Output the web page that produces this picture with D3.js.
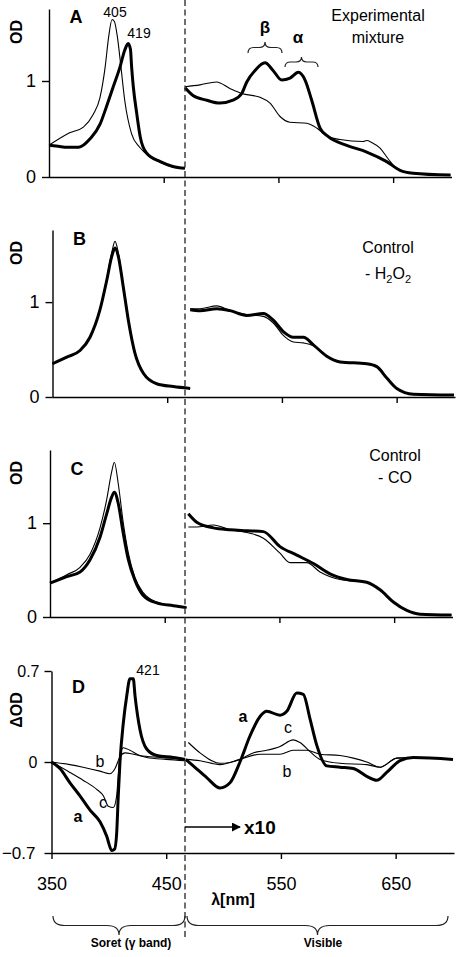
<!DOCTYPE html>
<html><head><meta charset="utf-8">
<script src="https://cdn.jsdelivr.net/npm/d3@7"></script>
<style>
body{margin:0;background:#fff;}
svg text{font-family:Arial,"Liberation Sans",sans-serif;fill:#000;}
</style></head>
<body><svg id="c" width="461" height="957"></svg>
<script>
// ---------- DATA (wavelength nm, OD / ΔOD) ----------
const xTicksTop = [450, 550, 650];
const xTicksBottom = [350, 450, 550, 650];
const odTicks = [0, 1];
const dodTicks = [-0.7, 0, 0.7];

const aSoretThin = [[350,0.33],[368,0.46],[380,0.52],[388.5,0.65],[394.5,0.83],[399,1.15],[402,1.46],[405,1.64],[407,1.62],[409.5,1.47],[412.5,1.17],[416,0.80],[422,0.45],[429,0.31],[438,0.21],[449.5,0.14],[459,0.10],[468.5,0.09]];
const aSoretThick = [[350,0.33],[358,0.32],[366,0.31],[376,0.31],[386,0.40],[394.5,0.55],[400,0.73],[406,0.94],[412,1.15],[416,1.32],[419,1.39],[421,1.33],[422,1.15],[423.5,0.94],[426.5,0.66],[429.5,0.42],[435,0.25],[447,0.16],[458,0.11],[468.5,0.09]];
const aVisThin = [[468.6,0.94],[481.6,0.96],[496,0.99],[508,0.92],[518,0.87],[534,0.83],[542.7,0.77],[551.4,0.63],[560,0.57],[574.7,0.56],[583.4,0.51],[592,0.43],[603.7,0.39],[623.8,0.37],[627,0.38],[631.3,0.36],[638.6,0.30],[645.6,0.19],[653,0.09],[667,0.04],[700,0.02]];
const aVisThick = [[468.6,0.93],[475.5,0.85],[487.5,0.80],[499,0.77],[510.4,0.80],[518,0.87],[522.4,0.99],[529.6,1.11],[538.3,1.19],[545.3,1.11],[552.9,1.01],[560.1,1.03],[567.4,1.09],[573.2,1.01],[579,0.80],[586.3,0.51],[593.5,0.42],[609.5,0.33],[627,0.26],[644.4,0.16],[656,0.07],[667.3,0.04],[700,0.02]];

const bSoretThin = [[350,0.35],[362.4,0.42],[374,0.49],[382.7,0.63],[391.4,0.93],[397.3,1.25],[401.6,1.52],[404.5,1.64],[407.4,1.52],[411.7,1.18],[416.1,0.83],[421.9,0.47],[429.2,0.26],[440.8,0.14],[455.3,0.11],[470,0.09]];
const bSoretThick = [[350,0.35],[362.4,0.42],[374,0.49],[382.7,0.63],[391.4,0.92],[397.3,1.23],[401.6,1.48],[404.5,1.57],[407.4,1.48],[411.7,1.16],[416.1,0.81],[421.9,0.46],[429.2,0.25],[440.8,0.14],[455.3,0.11],[470,0.09]];
const bVisThin = [[470,0.93],[478.6,0.93],[493.2,0.96],[504.8,0.91],[519.3,0.87],[533.8,0.85],[542.5,0.78],[551.2,0.65],[559.9,0.58],[568.7,0.57],[577.4,0.54],[589.1,0.43],[600.7,0.37],[623.9,0.35],[632.7,0.32],[641.4,0.20],[650.1,0.09],[664.6,0.03],[700,0.02]];
const bVisThick = [[470,0.92],[478.6,0.91],[493.2,0.93],[504.8,0.91],[519.3,0.86],[533.8,0.88],[542.5,0.81],[551.2,0.69],[559.9,0.63],[568.7,0.63],[577.4,0.55],[589.1,0.43],[600.7,0.37],[623.9,0.35],[632.7,0.32],[641.4,0.20],[650.1,0.09],[664.6,0.03],[700,0.02]];

const cSoretThin = [[350,0.36],[364.6,0.45],[376.2,0.53],[384.9,0.67],[393.6,0.95],[399.4,1.25],[403.8,1.55],[406.1,1.65],[409.5,1.42],[413.9,1.0],[418.3,0.68],[424.1,0.42],[431.3,0.26],[443,0.16],[457.5,0.12],[469,0.10]];
const cSoretThick = [[350,0.36],[364.6,0.43],[376.2,0.48],[384.9,0.61],[393.6,0.85],[399.4,1.10],[403.8,1.28],[406.1,1.33],[409.5,1.21],[413.9,0.89],[418.3,0.61],[424.1,0.39],[431.3,0.23],[443,0.15],[457.5,0.12],[469,0.10]];
const cVisThin = [[470.6,0.96],[477.9,0.96],[492.4,0.98],[506.9,0.93],[521.5,0.90],[536,0.84],[550.5,0.68],[559.2,0.58],[573.8,0.58],[585.4,0.48],[602.8,0.40],[626.1,0.37],[637.7,0.29],[649.3,0.16],[661,0.07],[672.6,0.03],[700,0.02]];
const cVisThick = [[470.6,1.10],[477.9,1.01],[492.4,0.95],[506.9,0.93],[521.5,0.92],[536,0.91],[550.5,0.75],[565.1,0.66],[579.6,0.57],[594.1,0.46],[608.7,0.40],[626.1,0.37],[637.7,0.29],[649.3,0.16],[661,0.07],[672.6,0.03],[700,0.02]];

const dSoretA = [[350,0],[357.4,-0.05],[366.1,-0.16],[374.8,-0.26],[383.6,-0.37],[392.3,-0.46],[398.1,-0.57],[402.5,-0.68],[405,-0.67],[406.8,-0.55],[408.2,-0.26],[409.7,0],[412.6,0.30],[415.6,0.51],[418.4,0.64],[421.3,0.64],[422.8,0.51],[427.1,0.25],[433,0.10],[441.7,0.05],[456.2,0.035],[466.4,0.02]];
const dSoretB = [[350,0],[366,-0.02],[377.5,-0.04],[392.3,-0.07],[401,-0.09],[405.4,-0.05],[409.7,0.04],[414.1,0.07],[421.3,0.06],[433,0.035],[450,0.02],[466.4,0.01]];
const dSoretC = [[350,0],[366.1,-0.08],[377.5,-0.14],[389.4,-0.21],[395.2,-0.26],[399.5,-0.34],[403.9,-0.35],[406.8,-0.26],[408.2,-0.10],[409.7,0.05],[412.6,0.11],[418.4,0.09],[427.1,0.05],[444.6,0.035],[466.4,0.02]];
// visible part shown x10
const dVisA = [[467,0.02],[473.6,-0.03],[485.3,-0.12],[496.9,-0.20],[505.6,-0.16],[514.3,0],[523,0.20],[531.8,0.35],[537.6,0.39],[549.2,0.36],[555.1,0.39],[563.8,0.53],[569.5,0.52],[575.4,0.33],[581.2,0.13],[589.9,-0.03],[601.5,-0.04],[613.1,-0.05],[624.8,-0.11],[633.5,-0.14],[642.2,-0.08],[653.8,0.01],[665.4,0.035],[700,0.02]];
const dVisB = [[467,0.02],[479.5,0.01],[496.9,-0.02],[514.3,0.02],[531.8,0.06],[549.2,0.06],[560.8,0.09],[572.5,0.09],[584.1,0.06],[601.5,0.05],[613.1,0.03],[624.8,0.0],[636.4,-0.04],[651,0.03],[665.4,0.035],[700,0.02]];
const dVisC = [[469.3,0.15],[479.5,0.07],[496.9,-0.01],[514.3,0.02],[525.7,0.07],[537.6,0.09],[549.2,0.12],[560.8,0.17],[566.6,0.15],[575.4,0.08],[584.1,0.02],[601.5,-0.01],[624.8,-0.02],[636.4,-0.04],[651,0.03],[665.4,0.035],[700,0.02]];

// ---------- DRAWING ----------
const svg = d3.select("#c");
svg.append("rect").attr("width",461).attr("height",957).attr("fill","#fff");

const THICK = 3, THIN = 1.1;
const panels = [
  {x0:49,   yTop:9,   yBot:177, dom:[0,1.75], ticks:odTicks, letter:"A", thin:[aSoretThin,aVisThin], thick:[aSoretThick,aVisThick]},
  {x0:52.5, yTop:230, yBot:397, dom:[0,1.76], ticks:odTicks, letter:"B", thin:[bSoretThin,bVisThin], thick:[bSoretThick,bVisThick]},
  {x0:50,   yTop:450, yBot:617, dom:[0,1.78], ticks:odTicks, letter:"C", thin:[cSoretThin,cVisThin], thick:[cSoretThick,cVisThick]},
  {x0:51.5, yTop:671, yBot:853, dom:[-0.7,0.7], ticks:dodTicks, letter:"D", thin:[dSoretB,dSoretC,dVisB,dVisC], thick:[dSoretA,dVisA]}
];

panels.forEach((p,i)=>{
  const x = d3.scaleLinear().domain([350,700]).range([p.x0, p.x0+401.5]);
  const y = d3.scaleLinear().domain(p.dom).range([p.yBot, p.yTop]);
  p.x = x; p.y = y;
  const isD = i===3;
  // y axis
  const ya = d3.axisLeft(y).tickValues(p.ticks).tickSize(7).tickSizeOuter(0).tickPadding(isD?5:6)
      .tickFormat(d=> d===0 ? "0" : (isD ? d3.format(".1f")(d) : d3.format("d")(d)));
  const gy = svg.append("g").attr("transform",`translate(${p.x0},0)`).call(ya);
  gy.selectAll("text").attr("font-size", isD?16:18).attr("font-family","Arial, 'Liberation Sans', sans-serif");
  gy.selectAll("path,line").attr("stroke","#000").attr("stroke-width",1.4);
  if(isD){
    gy.selectAll(".tick").filter(d=>d===0).select("text").attr("x",-14);
    gy.selectAll(".tick").filter(d=>d===-0.7).select("text").attr("x",-16).attr("font-size",17);
  }
  // x axis
  const xa = d3.axisBottom(x).tickValues(isD?xTicksBottom:xTicksTop).tickSize(6).tickSizeOuter(0)
      .tickPadding(18).tickFormat(isD? d3.format("d") : "");
  const gx = svg.append("g").attr("transform",`translate(0,${p.yBot})`).call(xa);
  gx.select(".domain").attr("d",`M${p.x0},0.5H${p.x0+403}`);
  gx.selectAll("path,line").attr("stroke","#000").attr("stroke-width",1.4);
  gx.selectAll("text").attr("font-size",18).attr("font-family","Arial, 'Liberation Sans', sans-serif");

  const line = d3.line().x(d=>x(d[0])).y(d=>y(d[1])).curve(d3.curveMonotoneX);
  p.thin.forEach(s=> svg.append("path").attr("d",line(s)).attr("fill","none").attr("stroke","#000").attr("stroke-width",THIN).attr("stroke-linejoin","round"));
  p.thick.forEach(s=> svg.append("path").attr("d",line(s)).attr("fill","none").attr("stroke","#000").attr("stroke-width",THICK).attr("stroke-linejoin","round"));

  // panel letter
  svg.append("text").attr("x",p.x0+27).attr("y", isD? 693 : p.yTop+ (i===0?14:(i===1?15:25)))
    .attr("font-size",18).attr("font-weight","bold").attr("text-anchor","middle").text(p.letter);
  // y label
  svg.append("text").attr("transform",`translate(${22},${isD?710:p.yTop+23}) rotate(-90)`)
    .attr("text-anchor","middle").attr("font-size",16).attr("font-weight","bold").text(isD?"ΔOD":"OD");
});

// dashed divider
svg.append("line").attr("x1",185).attr("x2",185).attr("y1",0).attr("y2",940)
  .attr("stroke","#333").attr("stroke-width",1.4).attr("stroke-dasharray","6,3.5");

// annotations panel A
const T = (x,y,t,o={})=>{const e=svg.append("text").attr("x",x).attr("y",y).attr("text-anchor",o.anchor||"middle")
   .attr("font-size",o.size||14).attr("font-weight",o.bold?"bold":"normal").text(t); return e;};
T(115,17,"405",{size:14});
T(139,38,"419",{size:14});
T(378,21,"Experimental",{size:16});
T(378,43,"mixture",{size:16});
T(265,33,"β",{size:17,bold:true});
T(298,43,"α",{size:17,bold:true});

function brace(x1,x2,y,d){
  const m=(x1+x2)/2, h=d/2, r=Math.min(12,(x2-x1)/6);
  return `M${x1},${y} Q${x1},${y+h} ${x1+r},${y+h} L${m-r},${y+h} Q${m},${y+h} ${m},${y+d} Q${m},${y+h} ${m+r},${y+h} L${x2-r},${y+h} Q${x2},${y+h} ${x2},${y}`;
}
const B = (x1,x2,y,d)=>svg.append("path").attr("d",brace(x1,x2,y,d)).attr("fill","none").attr("stroke","#222").attr("stroke-width",1.2);
B(248,282,53,-11);
B(285,318,67,-10);
B(53,185,916,19);
B(187,448,916,19);

// panel B/C texts
T(388,253,"Control",{size:16});
const hb = T(388,279,"",{size:16});
hb.append("tspan").text("- H");
hb.append("tspan").attr("font-size",11).attr("dy",4).text("2");
hb.append("tspan").attr("dy",-4).text("O");
hb.append("tspan").attr("font-size",11).attr("dy",4).text("2");
T(395,461,"Control",{size:16});
T(395,483,"- CO",{size:16});

// panel D texts
T(148,675,"421",{size:14});
T(78,822,"a",{size:16,bold:true});
T(100,767,"b",{size:16});
T(103,808,"c",{size:16});
T(243,722,"a",{size:16,bold:true});
T(288,733,"c",{size:16});
T(287,777,"b",{size:16});

// x10 arrow
svg.append("defs").append("marker").attr("id","ah").attr("viewBox","0 0 10 10").attr("refX",9).attr("refY",5)
  .attr("markerWidth",9).attr("markerHeight",9).attr("markerUnits","userSpaceOnUse").attr("orient","auto")
  .append("path").attr("d","M0,0L10,5L0,10z").attr("fill","#000");
svg.append("line").attr("x1",185).attr("x2",240).attr("y1",827).attr("y2",827).attr("stroke","#000").attr("stroke-width",1.4).attr("marker-end","url(#ah)");
T(244,834,"x10",{size:19,bold:true,anchor:"start"});

// bottom labels
T(233,905,"λ[nm]",{size:16,bold:true});
T(131,947,"Soret (γ band)",{size:12,bold:true});
T(323,947,"Visible",{size:12,bold:true});
</script></body></html>
